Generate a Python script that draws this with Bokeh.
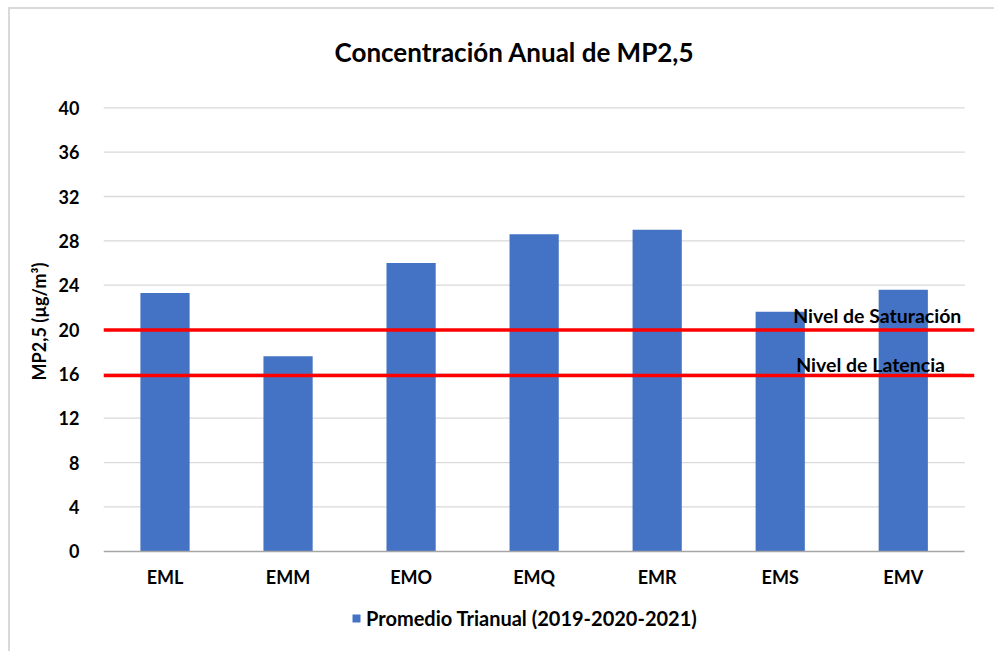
from bokeh.plotting import figure
from bokeh.models import Range1d, FixedTicker, Legend, LegendItem, Label
from bokeh.embed import file_html
from bokeh.resources import INLINE
from bokeh.core.properties import value

categories = ["EML", "EMM", "EMO", "EMQ", "EMR", "EMS", "EMV"]
promedio = [23.3, 17.6, 26.0, 28.6, 29.0, 21.6, 23.6]
y_ticks = [0, 4, 8, 12, 16, 20, 24, 28, 32, 36, 40]
nivel_saturacion = 19.95
nivel_latencia = 15.85
series_label = "Promedio Trianual (2019-2020-2021)"
y_label = "MP2,5 (µg/m³)"
chart_title = "Concentración Anual de MP2,5"

FONT = "Lato"
n = len(categories)
xs = [i + 0.5 for i in range(n)]

p = figure(width=986, height=644, output_backend="svg", toolbar_location=None,
           x_range=Range1d(0, n + 0.079), y_range=Range1d(-7.42, 48.87),
           min_border_left=93, min_border_right=22, min_border_top=0, min_border_bottom=20)
p.styles = {"border-left": "2px solid #d9d9d9", "border-top": "2px solid #d9d9d9",
            "margin-left": "8px", "margin-top": "7px"}
p.outline_line_color = None
p.xgrid.grid_line_color = None
p.ygrid.grid_line_color = None

# gridlines limited to category span
grid_y = [t for t in y_ticks if t > 0]
p.segment(x0=[0] * len(grid_y), x1=[n] * len(grid_y), y0=grid_y, y1=grid_y,
          line_color="#d9d9d9", line_width=1.3)

bars = p.vbar(x=xs, top=promedio, width=0.4, fill_color="#4472C4", line_color=None)

# threshold lines
p.segment(x0=[0, 0], x1=[n + 0.079, n + 0.079], y0=[nivel_saturacion, nivel_latencia],
          y1=[nivel_saturacion, nivel_latencia], line_color="#FF0000", line_width=3.5)
p.text(x=[5.605, 5.63], y=[nivel_saturacion, nivel_latencia], y_offset=[-3, 0],
       text=["Nivel de Saturación", "Nivel de Latencia"],
       text_font=value(FONT), text_font_style="bold", text_font_size="19.5px",
       text_color="#000000", text_baseline="bottom", text_align="left")

# axes
p.xaxis.fixed_location = 0
p.xaxis.ticker = FixedTicker(ticks=xs)
p.xaxis.major_label_overrides = {x: c for x, c in zip(xs, categories)}
p.xaxis.bounds = (0, n)
p.xaxis.axis_line_color = "#a6a6a6"
p.xaxis.axis_line_width = 1.5
p.xaxis.major_tick_line_color = None
p.xaxis.minor_tick_line_color = None
p.xaxis.major_label_standoff = 9
p.xaxis.major_label_text_font = FONT
p.xaxis.major_label_text_font_style = "bold"
p.xaxis.major_label_text_font_size = "18px"
p.xaxis.major_label_text_color = "#000000"

p.yaxis.ticker = FixedTicker(ticks=y_ticks)
p.yaxis.axis_line_color = None
p.yaxis.major_tick_line_color = None
p.yaxis.minor_tick_line_color = None
p.yaxis.major_label_standoff = 18
p.yaxis.major_label_text_font = FONT
p.yaxis.major_label_text_font_style = "bold"
p.yaxis.major_label_text_font_size = "18px"
p.yaxis.major_label_text_color = "#000000"
p.yaxis.axis_label = y_label
p.yaxis.axis_label_text_font = FONT
p.yaxis.axis_label_text_font_style = "bold"
p.yaxis.axis_label_text_font_size = "18px"
p.yaxis.axis_label_text_color = "#000000"
p.yaxis.axis_label_standoff = 6

# chart title, centred over the whole chart
p.add_layout(Label(x=3.34, y=45.07, text=chart_title, text_align="center",
                   text_baseline="middle", text_font=FONT, text_font_style="bold",
                   text_font_size="26px", text_color="#000000"))

legend = Legend(items=[LegendItem(label=series_label, renderers=[bars])],
                orientation="horizontal", location=(248, 3),
                label_text_font=FONT, label_text_font_style="bold",
                label_text_font_size="20px", label_text_color="#000000",
                glyph_width=10, glyph_height=10, label_standoff=5,
                border_line_color=None, background_fill_alpha=0,
                margin=0, padding=4)
p.add_layout(legend)

open("out.html", "w").write(file_html(p, INLINE))
